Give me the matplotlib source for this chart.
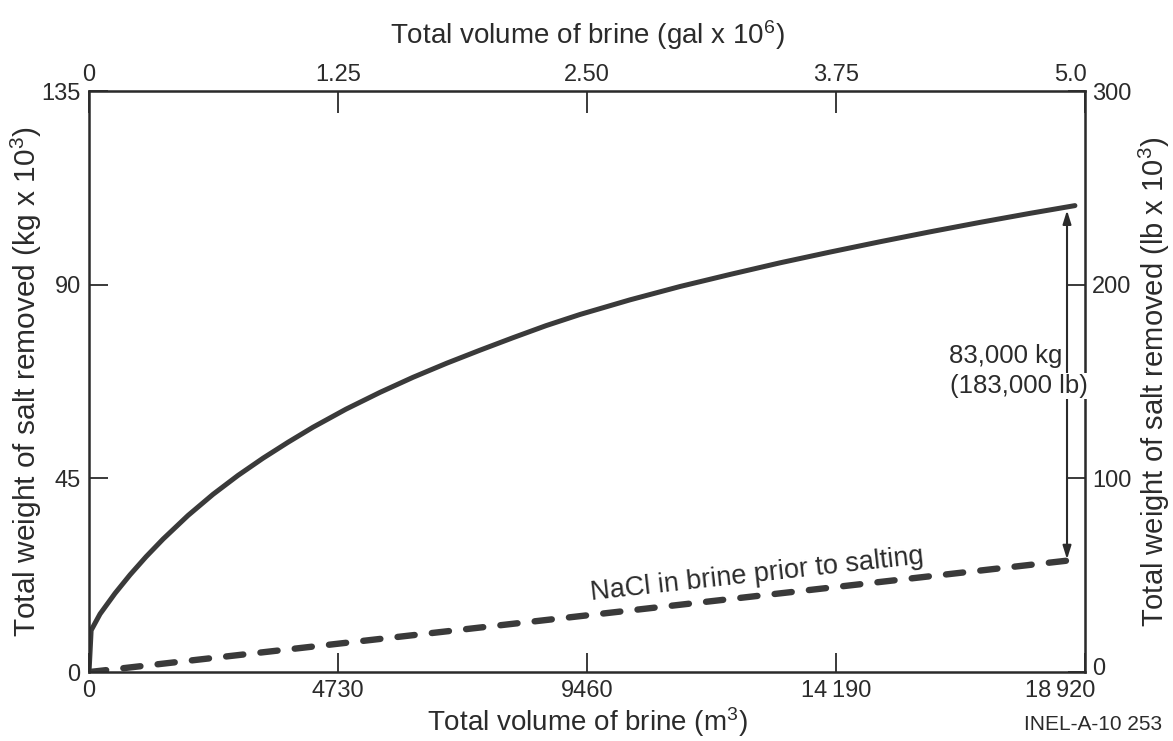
import matplotlib
matplotlib.use("Agg")
import matplotlib.pyplot as plt
from matplotlib.transforms import ScaledTranslation

plt.rcParams['font.family'] = ['Liberation Sans', 'DejaVu Sans']
plt.rcParams['mathtext.default'] = 'regular'

# salt removed (kg x 10^3) vs brine volume (m3)
vol_m3 = [0, 40, 209, 494, 779, 1083, 1406, 1881, 2355, 2830, 3305, 3780,
          4255, 4882, 5528, 6155, 6800, 7427, 8054, 8681, 9327, 10277,
          11227, 12176, 13126, 14076, 15026, 15975, 16925, 17875, 18730]
salt_kg = [0, 9.7, 13.5, 18.3, 22.6, 26.8, 30.9, 36.4, 41.3, 45.7, 49.7, 53.4,
           56.9, 61.1, 65.0, 68.5, 71.8, 74.8, 77.7, 80.5, 83.1, 86.5,
           89.6, 92.4, 95.1, 97.6, 100.0, 102.3, 104.5, 106.6, 108.4]

# NaCl already in the brine
nacl_vol = [0, 18800]
nacl_kg = [0, 26.2]

bottom_ticks = [0, 4730, 9460, 14190, 18920]
bottom_labels = ['0', '4730', '9460', '14\u2009190', '18\u2009920']
top_ticks = [0, 1.25, 2.50, 3.75, 5.0]
top_labels = ['0', '1.25', '2.50', '3.75', '5.0']
left_ticks = [0, 45, 90, 135]
right_ticks = [0, 100, 200, 300]

ink = '#2b2b2b'
line = '#3a3a3a'

fig = plt.figure(figsize=(11.73, 7.41), dpi=100)
ax = fig.add_axes([0.0759, 0.093, 0.849, 0.784])

ax.plot(vol_m3, salt_kg, color=line, lw=3.6, solid_capstyle='round', solid_joinstyle='round')
ax.plot(nacl_vol, nacl_kg, color=line, lw=4.6, dashes=(2.7, 2.7), dash_capstyle='round')

ax.set_xlim(0, 18920)
ax.set_ylim(0, 135)

for s in ax.spines.values():
    s.set_linewidth(1.8)
    s.set_color(ink)

ax.set_xticks(bottom_ticks)
ax.set_xticklabels(bottom_labels)
ax.set_yticks(left_ticks)
ax.tick_params(direction='in', length=14, width=1.3, labelsize=17, colors=ink, pad=6)
ax.set_xlabel('Total volume of brine (m$^3$)', fontsize=20, color=ink, labelpad=2)
ax.set_ylabel('Total weight of salt removed (kg x 10$^3$)', fontsize=21.5, color=ink)
ax.yaxis.set_label_coords(-0.045, 0.5)

# last bottom label sits left of the corner
lastx = ax.get_xticklabels()[-1]
lastx.set_ha('right')
lastx.set_transform(lastx.get_transform() + ScaledTranslation(0.1, 0, fig.dpi_scale_trans))

gal = 5.0 / 18920
top = ax.secondary_xaxis('top', functions=(lambda v: v * gal, lambda g: g / gal))
top.set_xticks(top_ticks)
top.set_xticklabels(top_labels)
top.tick_params(direction='in', length=16, width=1.3, labelsize=17, colors=ink, pad=4)
top.set_xlabel('Total volume of brine (gal x 10$^6$)', fontsize=20, color=ink, labelpad=14)
lastt = top.get_xticklabels()[-1]
lastt.set_ha('right')
lastt.set_transform(lastt.get_transform() + ScaledTranslation(0.02, 0, fig.dpi_scale_trans))

lb = 300 / 135
right = ax.secondary_yaxis('right', functions=(lambda v: v * lb, lambda p: p / lb))
right.set_yticks(right_ticks)
right.tick_params(direction='in', length=12, width=1.3, labelsize=17, colors=ink, pad=5)
right.set_ylabel('Total weight of salt removed (lb x 10$^3$)', fontsize=21, color=ink, labelpad=4)
zr = right.get_yticklabels()[0]
zr.set_transform(zr.get_transform() + ScaledTranslation(0, 0.06, fig.dpi_scale_trans))

# difference arrow
ax.annotate('', xy=(18580, 107.3), xytext=(18580, 26.2),
            arrowprops=dict(arrowstyle='<|-|>,head_length=0.8,head_width=0.25',
                            color=ink, lw=1.5, shrinkA=0, shrinkB=0))
ax.text(17420, 73.5, '83,000 kg', fontsize=18.5, color=ink, ha='center', va='center')
ax.text(17660, 66.5, '(183,000 lb)', fontsize=18.5, color=ink, ha='center', va='center',
        bbox=dict(facecolor='white', edgecolor='none', pad=1))

ax.text(12700, 22.6, 'NaCl in brine prior to salting', fontsize=19.5, color=ink,
        ha='center', va='center', rotation=6.3)

fig.text(0.991, 0.022, 'INEL-A-10 253', fontsize=15, color=ink, ha='right', va='center')

fig.savefig('out.png', dpi=100)
